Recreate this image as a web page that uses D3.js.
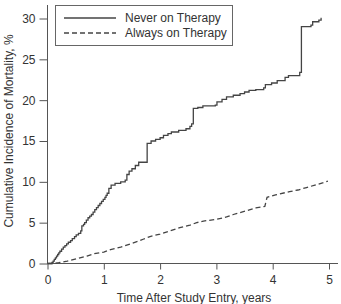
<!DOCTYPE html>
<html>
<head>
<meta charset="utf-8">
<script src="https://cdn.jsdelivr.net/npm/d3@7"></script>
<style>
  body { margin: 0; background: #fff; }
  text { font-family: "Liberation Sans", Arial, sans-serif; fill: #333; }
</style>
</head>
<body>
<div id="chart"></div>
<script>
// series: time (years) and cumulative incidence (%)
const neverT = [0, 0.06, 0.08, 0.1, 0.12, 0.14, 0.16, 0.18, 0.2, 0.22, 0.25, 0.28, 0.31, 0.34, 0.37, 0.41, 0.44, 0.48, 0.51, 0.55, 0.59, 0.61, 0.64, 0.66, 0.69, 0.72, 0.75, 0.78, 0.81, 0.84, 0.87, 0.9, 0.93, 0.96, 0.99, 1.02, 1.04, 1.06, 1.09, 1.13, 1.2, 1.3, 1.38, 1.41, 1.45, 1.5, 1.56, 1.62, 1.77, 1.84, 1.92, 2.0, 2.06, 2.14, 2.2, 2.33, 2.46, 2.53, 2.56, 2.59, 2.67, 2.76, 2.98, 3.01, 3.1, 3.18, 3.3, 3.42, 3.5, 3.58, 3.7, 3.84, 3.87, 3.98, 4.08, 4.22, 4.28, 4.48, 4.51, 4.68, 4.71, 4.82, 4.86, 4.87];
const neverV = [0, 0, 0.15, 0.3, 0.5, 0.7, 0.9, 1.1, 1.3, 1.5, 1.75, 2.0, 2.2, 2.4, 2.6, 2.8, 3.05, 3.3, 3.5, 3.7, 4.0, 4.6, 4.8, 5.0, 5.3, 5.6, 5.8, 6.0, 6.3, 6.6, 6.85, 7.1, 7.35, 7.6, 7.85, 8.1, 8.35, 8.6, 9.2, 9.6, 9.8, 10.0, 10.2, 10.9, 11.3, 11.6, 12.0, 12.4, 14.7, 15.0, 15.2, 15.4, 15.7, 15.9, 16.1, 16.3, 16.5, 16.8, 17.1, 19.0, 19.1, 19.3, 19.4, 19.8, 20.1, 20.4, 20.6, 20.8, 21.0, 21.2, 21.3, 21.5, 21.9, 22.1, 22.4, 22.8, 23.0, 23.4, 29.0, 29.2, 29.6, 29.8, 30.0, 30.0];
const alwaysT = [0, 0.1, 0.2, 0.35, 0.53, 0.7, 0.83, 1.0, 1.12, 1.3, 1.47, 1.6, 1.71, 1.82, 2.0, 2.18, 2.35, 2.53, 2.65, 2.77, 3.0, 3.18, 3.3, 3.45, 3.6, 3.7, 3.86, 3.9, 4.05, 4.3, 4.45, 4.6, 4.75, 4.9, 4.98];
const alwaysV = [0, 0, 0.1, 0.3, 0.6, 0.9, 1.2, 1.4, 1.7, 2.0, 2.4, 2.7, 3.0, 3.3, 3.6, 4.0, 4.4, 4.7, 5.0, 5.2, 5.4, 5.7, 6.0, 6.3, 6.6, 6.8, 7.0, 8.1, 8.4, 8.8, 9.0, 9.3, 9.6, 9.9, 10.1];

const xTicks = [0, 1, 2, 3, 4, 5];
const yTicks = [0, 5, 10, 15, 20, 25, 30];
const seriesNames = ["Never on Therapy", "Always on Therapy"];

const width = 341, height = 304;
const x0 = 47.5, y0 = 263.5;
const fontSize = 12;

const svg = d3.select("#chart").append("svg")
  .attr("width", width).attr("height", height);

const x = d3.scaleLinear().domain([0, 5]).range([x0, 329]);
const y = d3.scaleLinear().domain([0, 30]).range([y0, 18.5]);

// axes (domain lines drawn separately so they can run past the last tick)
const gx = svg.append("g")
  .attr("transform", `translate(0,${y0})`)
  .call(d3.axisBottom(x).tickValues(xTicks).tickSize(6).tickPadding(6).tickFormat(d3.format("d")));
gx.select(".domain").remove();
gx.append("line").attr("x1", x0).attr("x2", 338).attr("stroke", "#555");

const gy = svg.append("g")
  .attr("transform", `translate(${x0},0)`)
  .call(d3.axisLeft(y).tickValues(yTicks).tickSize(8).tickPadding(4));
gy.select(".domain").remove();
gy.append("line").attr("y1", 5).attr("y2", y0).attr("stroke", "#555");

svg.selectAll(".tick line").attr("stroke", "#555");
svg.selectAll(".tick text").attr("font-size", fontSize).attr("fill", "#333")
  .style("font-family", "'Liberation Sans', Arial, sans-serif");

// curves
const line = d3.line()
  .x(d => x(d[0])).y(d => y(d[1]))
  .curve(d3.curveStepAfter);

svg.append("path")
  .datum(d3.zip(neverT, neverV))
  .attr("fill", "none").attr("stroke", "#444").attr("stroke-width", 1.3)
  .attr("d", line);

svg.append("path")
  .datum(d3.zip(alwaysT, alwaysV))
  .attr("fill", "none").attr("stroke", "#444").attr("stroke-width", 1.3)
  .attr("stroke-dasharray", "5,3")
  .attr("d", line.curve(d3.curveLinear));

// axis titles
svg.append("text")
  .attr("x", 194).attr("y", 302)
  .attr("text-anchor", "middle").attr("font-size", fontSize)
  .text("Time After Study Entry, years");

svg.append("text")
  .attr("transform", "translate(13,131) rotate(-90)")
  .attr("text-anchor", "middle").attr("font-size", fontSize)
  .text("Cumulative Incidence of Mortality, %");

// legend
const lg = svg.append("g");
lg.append("rect")
  .attr("x", 55.5).attr("y", 5.5).attr("width", 177).attr("height", 40)
  .attr("fill", "#fff").attr("stroke", "#666");
seriesNames.forEach((name, i) => {
  const ly = 18 + i * 15;
  lg.append("line")
    .attr("x1", 64).attr("x2", 116).attr("y1", ly).attr("y2", ly)
    .attr("stroke", "#444").attr("stroke-width", 1.3)
    .attr("stroke-dasharray", i === 1 ? "5,3" : null);
  lg.append("text")
    .attr("x", 125).attr("y", ly + 4)
    .attr("font-size", fontSize)
    .text(name);
});
</script>
</body>
</html>
